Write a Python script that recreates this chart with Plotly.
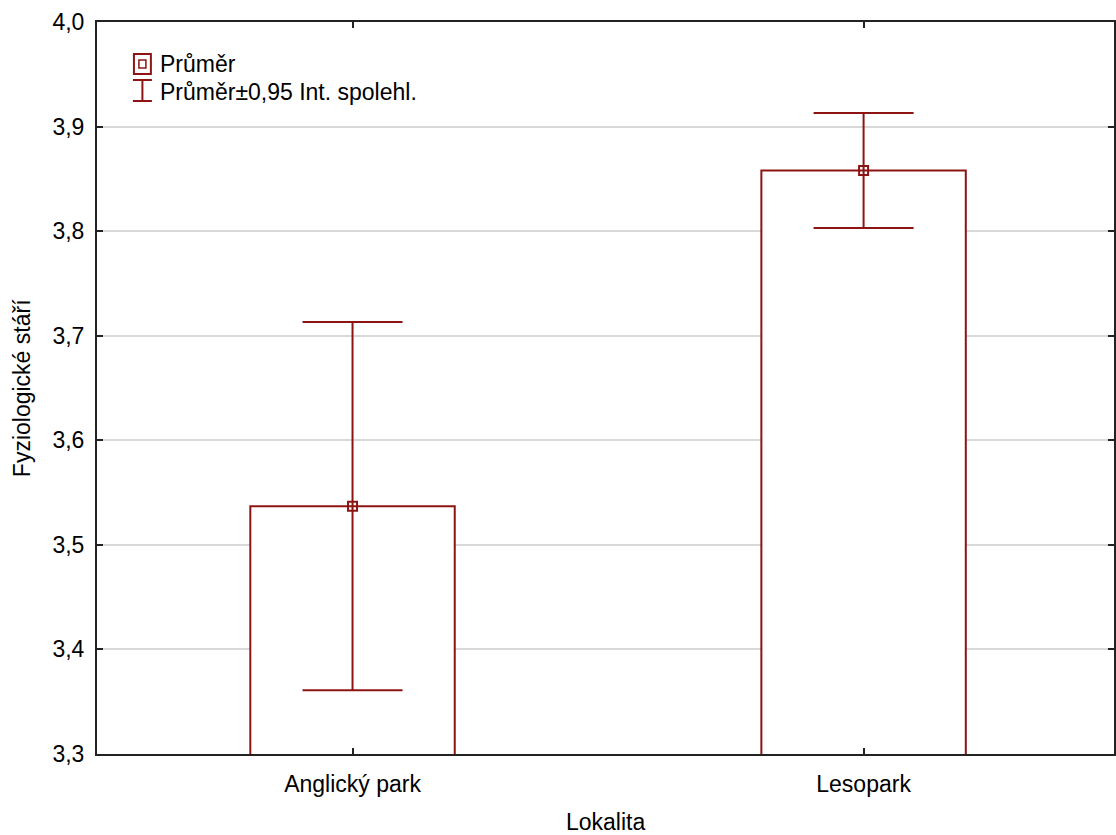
import plotly.graph_objects as go

# Mean physiological age per locality with 95% confidence intervals
lokality = ["Anglický park", "Lesopark"]
prumer = [3.537, 3.858]
ci95 = [0.176, 0.055]

DARK_RED = "#8e1414"
FONT = "Liberation Sans, Arial, sans-serif"
FS = 23

fig = go.Figure()

fig.add_trace(go.Bar(
    x=lokality, y=prumer, width=0.4,
    marker=dict(color="white", line=dict(color=DARK_RED, width=2)),
    showlegend=False, hoverinfo="skip",
))

fig.add_trace(go.Scatter(
    x=lokality, y=prumer, mode="markers",
    marker=dict(symbol="square-open", size=9, color=DARK_RED, line=dict(width=2, color=DARK_RED)),
    error_y=dict(type="data", array=ci95, visible=True, color=DARK_RED, thickness=2, width=50),
    showlegend=False,
))

W, H = 1116, 835
L, R, T, B = 97, 0, 22, 81
pw, ph = W - L - R, H - T - B


def px(x):
    return (x - L) / pw


def py(y):
    return (H - B - y) / ph


# Hand-drawn legend in the upper-left corner of the plot area
shapes = [
    dict(type="rect", xref="paper", yref="paper", x0=px(134), x1=px(151), y0=py(74), y1=py(54),
         line=dict(color=DARK_RED, width=2)),
    dict(type="rect", xref="paper", yref="paper", x0=px(139), x1=px(146), y0=py(68), y1=py(60),
         line=dict(color=DARK_RED, width=1.5)),
    dict(type="line", xref="paper", yref="paper", x0=px(133), x1=px(152), y0=py(80), y1=py(80),
         line=dict(color=DARK_RED, width=2)),
    dict(type="line", xref="paper", yref="paper", x0=px(133), x1=px(152), y0=py(101), y1=py(101),
         line=dict(color=DARK_RED, width=2)),
    dict(type="line", xref="paper", yref="paper", x0=px(142.5), x1=px(142.5), y0=py(80), y1=py(101),
         line=dict(color=DARK_RED, width=2)),
]

annotations = [
    dict(text="Průměr", xref="paper", yref="paper", x=px(158), y=py(64), xanchor="left", yanchor="middle",
         showarrow=False, font=dict(family=FONT, size=FS, color="black")),
    dict(text="Průměr±0,95 Int. spolehl.", xref="paper", yref="paper", x=px(158), y=py(92),
         xanchor="left", yanchor="middle", showarrow=False, font=dict(family=FONT, size=FS, color="black")),
    dict(text="Fyziologické stáří", xref="paper", yref="paper", x=px(22), y=py(388), textangle=-90,
         xanchor="center", yanchor="middle", showarrow=False, font=dict(family=FONT, size=FS, color="black")),
    dict(text="Lokalita", xref="paper", yref="paper", x=px(607), y=py(822), xanchor="center", yanchor="middle",
         showarrow=False, font=dict(family=FONT, size=FS, color="black")),
]

fig.update_layout(
    width=W, height=H,
    margin=dict(l=L, r=R, t=T, b=B, pad=0),
    plot_bgcolor="white", paper_bgcolor="white",
    separators=", ",
    font=dict(family=FONT, size=FS, color="black"),
    shapes=shapes, annotations=annotations,
    showlegend=False,
)

fig.update_xaxes(
    range=[-0.5, 1.49], showgrid=False,
    showline=True, linecolor="#222222", linewidth=2, mirror="ticks",
    ticks="inside", ticklen=6, tickcolor="#222222", tickwidth=1.5,
    ticklabelstandoff=8, tickfont=dict(family=FONT, size=FS, color="black"),
)

fig.update_yaxes(
    range=[3.3, 4.0], dtick=0.1, tick0=3.3, tickformat=".1f",
    showgrid=True, gridcolor="#d9d9d9", gridwidth=2,
    showline=True, linecolor="#222222", linewidth=2, mirror="ticks",
    ticks="inside", ticklen=6, tickcolor="#222222", tickwidth=1.5,
    ticklabelstandoff=6, tickfont=dict(family=FONT, size=FS, color="black"),
    zeroline=False,
)

fig.write_html("out.html")
